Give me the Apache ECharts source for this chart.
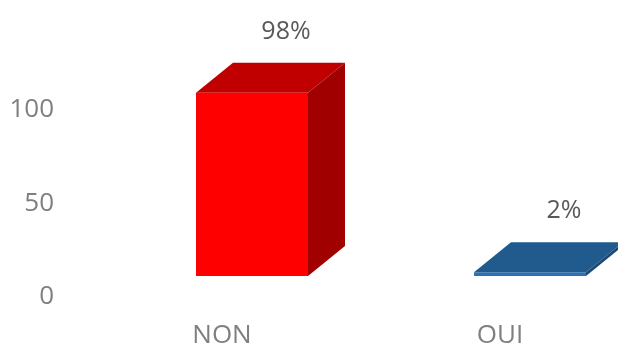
<!DOCTYPE html>
<html><head><meta charset="utf-8">
<script src="https://cdn.jsdelivr.net/npm/echarts@6/dist/echarts.min.js"></script>
<style>html,body{margin:0;padding:0;background:#fff}#c{width:618px;height:349px}</style>
</head><body><div id="c"></div>
<script>
const categories = ['NON', 'OUI'];
const values = [98, 2];
const valueLabels = ['98%', '2%'];
const yTicks = [0, 50, 100];

const faceColors = [
  { front: '#ff0000', top: '#c00000', side: '#a00000' },
  { front: '#2f70b0', top: '#215a8c', side: '#1b4a76' }
];

const chart = echarts.init(document.getElementById('c'), null, { renderer: 'canvas' });
const DX = 37, DY = -30, BASE_SHIFT = -21;
chart.setOption({
  animation: false,
  grid: { left: 222, right: 118, top: 110, bottom: 50, containLabel: false },
  xAxis: {
    type: 'category', data: categories, boundaryGap: false,
    axisLine: { show: false }, axisTick: { show: false },
    axisLabel: { color: '#7f7f7f', fontSize: 26, fontFamily: 'Open Sans', margin: 26 }
  },
  yAxis: {
    type: 'value', min: 0, max: 100, interval: 50,
    splitLine: { show: false }, axisLine: { show: false }, axisTick: { show: false },
    axisLabel: { color: '#7f7f7f', fontSize: 26, fontFamily: 'Open Sans', margin: 168 }
  },
  series: [{
    type: 'custom',
    clip: false,
    data: values.map((v, i) => [i, v]),
    renderItem: function (params, api) {
      const i = api.value(0), v = api.value(1);
      const top = api.coord([i, v]);
      const bot = api.coord([i, 0]);
      const x0 = top[0] - 26, x1 = top[0] + 86;
      const yt = top[1] + BASE_SHIFT, yb = bot[1] + BASE_SHIFT;
      const c = faceColors[params.dataIndex];
      return {
        type: 'group',
        children: [
          { type: 'polygon', shape: { points: [[x0, yt], [x1, yt], [x1 + DX, yt + DY], [x0 + DX, yt + DY]] }, style: { fill: c.top } },
          { type: 'polygon', shape: { points: [[x1, yt], [x1 + DX, yt + DY], [x1 + DX, yb + DY], [x1, yb]] }, style: { fill: c.side } },
          { type: 'rect', shape: { x: x0, y: yt, width: x1 - x0, height: yb - yt }, style: { fill: c.front } },
          { type: 'text', x: (x0 + x1) / 2 + 34, y: yt + DY - 31,
            style: { text: valueLabels[params.dataIndex], fill: '#595959', fontSize: 25, fontFamily: 'Open Sans', align: 'center', verticalAlign: 'middle' } }
        ]
      };
    }
  }]
});
</script></body></html>
